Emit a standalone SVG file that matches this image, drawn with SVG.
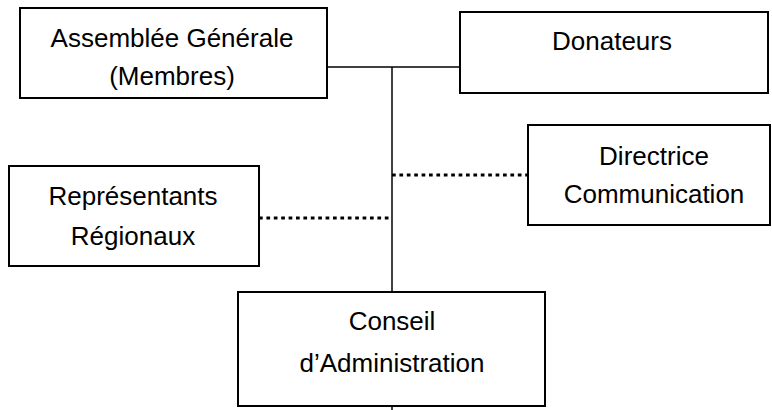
<svg xmlns="http://www.w3.org/2000/svg" width="772" height="410" viewBox="0 0 772 410">
<style>
.box{fill:#fff;stroke:#000;stroke-width:2}
.ln{stroke:#000;stroke-width:1.5;fill:none}
.dot{stroke:#000;stroke-width:3.2;stroke-dasharray:3.7 3.7;fill:none}
text{font-family:"Liberation Sans",Arial,sans-serif;font-size:26px;fill:#000;text-anchor:middle}
</style>
<rect width="772" height="410" fill="#fff"/>
<g id="connectors">
<line class="ln" x1="327" y1="67" x2="460" y2="67"/>
<line class="ln" x1="392" y1="67" x2="392" y2="410"/>
<line class="dot" x1="392" y1="175" x2="528" y2="175"/>
<line class="dot" x1="259" y1="218" x2="392" y2="218"/>
</g>
<g id="assemblee">
<rect class="box" x="20" y="8" width="307" height="90"/>
<text x="172" y="47">Assemblée Générale</text>
<text x="172" y="85">(Membres)</text>
</g>
<g id="donateurs">
<rect class="box" x="460" y="12" width="308" height="81"/>
<text x="612" y="50">Donateurs</text>
</g>
<g id="directrice">
<rect class="box" x="528" y="125" width="242" height="100"/>
<text x="654" y="165">Directrice</text>
<text x="654" y="203">Communication</text>
</g>
<g id="representants">
<rect class="box" x="9" y="166" width="250" height="100"/>
<text x="133" y="205">Représentants</text>
<text x="133" y="245">Régionaux</text>
</g>
<g id="conseil">
<rect class="box" x="238" y="292" width="307" height="114"/>
<text x="392" y="330">Conseil</text>
<text x="392" y="372">d’Administration</text>
</g>
</svg>
